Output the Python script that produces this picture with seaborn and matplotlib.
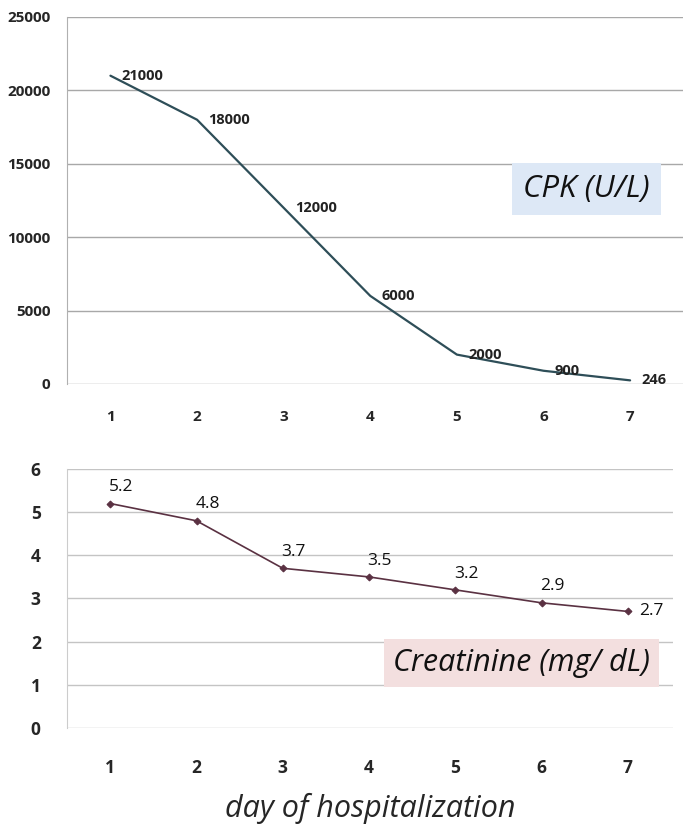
import pandas as pd
import matplotlib
matplotlib.use('Agg')
import matplotlib.pyplot as plt
import seaborn as sns

days = [1, 2, 3, 4, 5, 6, 7]
cpk = [21000, 18000, 12000, 6000, 2000, 900, 246]
creatinine = [5.2, 4.8, 3.7, 3.5, 3.2, 2.9, 2.7]
cpk_ticks = [0, 5000, 10000, 15000, 20000, 25000]
creat_ticks = [0, 1, 2, 3, 4, 5, 6]

df = pd.DataFrame({'day': days, 'cpk': cpk, 'creatinine': creatinine})

sns.set_style('white')
plt.rcParams['font.family'] = ['Open Sans', 'DejaVu Sans']

fig = plt.figure(figsize=(6.85, 8.32), dpi=100)
ax1 = fig.add_axes([0.098, 0.5385, 0.899, 0.4411])
ax2 = fig.add_axes([0.098, 0.125, 0.884, 0.3113])

# CPK panel
sns.lineplot(data=df, x='day', y='cpk', ax=ax1, color='#2e4e58', linewidth=1.6)
ax1.set_xlim(0.5, 7.61)
ax1.set_ylim(0, 25000)
ax1.set_yticks(cpk_ticks)
ax1.set_xticks(days)
ax1.grid(axis='y', color='#a8a8a8', linewidth=1)
for s in ['top', 'right', 'bottom']:
    ax1.spines[s].set_visible(False)
ax1.spines['left'].set_color('#b0b0b0')
ax1.tick_params(axis='y', length=0, pad=12, labelsize=11)
ax1.tick_params(axis='x', length=0, pad=19, labelsize=11)
for lab in ax1.get_xticklabels() + ax1.get_yticklabels():
    lab.set_fontweight('bold')
for d, v in zip(days, cpk):
    ax1.annotate(str(v), (d, v), xytext=(8, 0), textcoords='offset points',
                 va='center', ha='left', fontsize=10.5, fontweight='bold', color='#222222')
ax1.text(0.843, 0.531, 'CPK (U/L)', transform=ax1.transAxes, ha='center', va='center',
         fontsize=22.5, style='italic', color='#111111',
         bbox=dict(boxstyle='square,pad=0.35', facecolor='#dde8f6', edgecolor='none'))
ax1.set_xlabel('')
ax1.set_ylabel('')

# Creatinine panel
sns.lineplot(data=df, x='day', y='creatinine', ax=ax2, color='#5a3142', linewidth=1.2,
             marker='D', markersize=3.5, markeredgecolor='#5a3142')
ax2.set_xlim(0.5, 7.52)
ax2.set_ylim(0, 6)
ax2.set_yticks(creat_ticks)
ax2.set_xticks(days)
ax2.grid(axis='y', color='#c4c4c4', linewidth=1)
for s in ['top', 'right', 'bottom']:
    ax2.spines[s].set_visible(False)
ax2.spines['left'].set_color('#cccccc')
ax2.tick_params(axis='y', length=0, pad=19, labelsize=12.5)
ax2.tick_params(axis='x', length=0, pad=22, labelsize=12.5)
for lab in ax2.get_xticklabels() + ax2.get_yticklabels():
    lab.set_fontweight('bold')
for d, v in zip(days[:-1], creatinine[:-1]):
    ax2.annotate(str(v), (d, v), xytext=(-1, 6), textcoords='offset points',
                 va='bottom', ha='left', fontsize=12.5, color='#111111')
ax2.annotate(str(creatinine[-1]), (days[-1], creatinine[-1]), xytext=(8, 0),
             textcoords='offset points', va='center', ha='left', fontsize=12.5, color='#111111')
ax2.text(0.751, 0.251, 'Creatinine (mg/ dL)', transform=ax2.transAxes, ha='center', va='center',
         fontsize=22, style='italic', color='#111111',
         bbox=dict(boxstyle='square,pad=0.3', facecolor='#f3dfdf', edgecolor='none'))
ax2.set_ylabel('')
ax2.set_xlabel('day of hospitalization', fontsize=22, style='italic', labelpad=12)

fig.savefig('out.png', dpi=100)
